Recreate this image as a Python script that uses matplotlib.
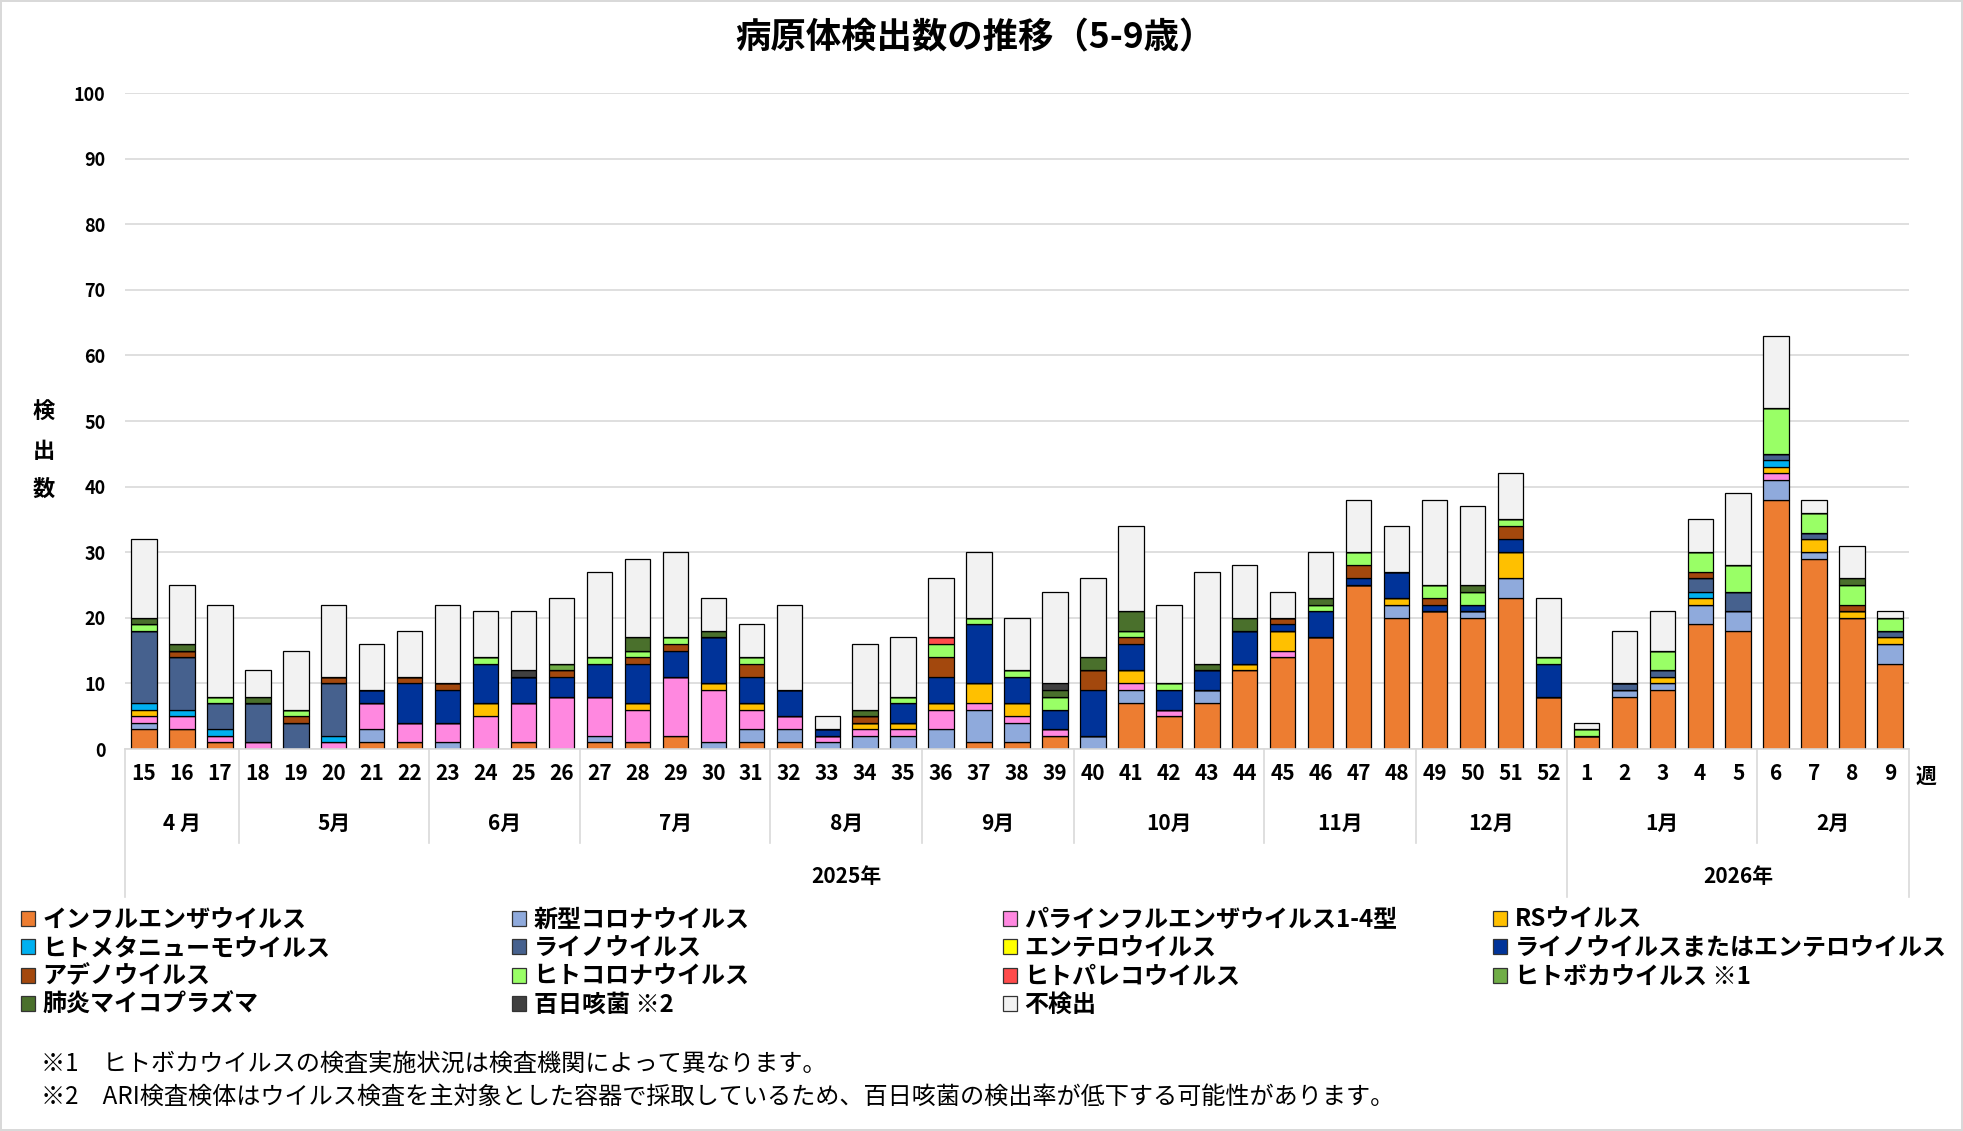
# Pathogen detections by week (5-9 years) - stacked bar figure

# ------------------------------------------------------
# IMPORTS
# ------------------------------------------------------

import numpy as np
import matplotlib
matplotlib.use('Agg')
import matplotlib.pyplot as plt
from matplotlib.patches import Patch

# Fonts
plt.rcParams['font.family'] = ['Noto Sans CJK JP', 'DejaVu Sans']

# ------------------------------------------------------
# INPUTS
# ------------------------------------------------------

# Weeks (2025: 15-52, 2026: 1-9)
weeks = [15, 16, 17, 18, 19, 20, 21, 22, 23, 24, 25, 26, 27, 28, 29, 30, 31, 32, 33, 34,
         35, 36, 37, 38, 39, 40, 41, 42, 43, 44, 45, 46, 47, 48, 49, 50, 51, 52,
         1, 2, 3, 4, 5, 6, 7, 8, 9]

# Months and number of weeks in each
months = ['4 月', '5月', '6月', '7月', '8月', '9月', '10月', '11月', '12月', '1月', '2月']
monthWeeks = [3, 5, 4, 5, 4, 4, 5, 4, 4, 5, 4]

# Years and number of weeks in each
years = ['2025年', '2026年']
yearWeeks = [38, 9]

# Series values (grouped by month)
flu     = [3,3,1, 0,0,0,1,1, 0,0,1,0, 1,1,2,0,1, 1,0,0,0, 0,1,1,2, 0,7,5,7,12, 14,17,25,20, 21,20,23,8, 2,8,9,19,18, 38,29,20,13]
cov     = [1,0,0, 0,0,0,2,0, 1,0,0,0, 1,0,0,1,2, 2,1,2,2, 3,5,3,0, 2,2,0,2,0, 0,0,0,2, 0,1,3,0, 0,1,1,3,3, 3,1,0,3]
para    = [1,2,1, 1,0,1,4,3, 3,5,6,8, 6,5,9,8,3, 2,1,1,1, 3,1,1,1, 0,1,1,0,0, 1,0,0,0, 0,0,0,0, 0,0,0,0,0, 1,0,0,0]
rs      = [1,0,0, 0,0,0,0,0, 0,2,0,0, 0,1,0,1,1, 0,0,1,1, 1,3,2,0, 0,2,0,0,1, 3,0,0,1, 0,0,4,0, 0,0,1,1,0, 1,2,1,1]
hmpv    = [1,1,1, 0,0,1,0,0, 0,0,0,0, 0,0,0,0,0, 0,0,0,0, 0,0,0,0, 0,0,0,0,0, 0,0,0,0, 0,0,0,0, 0,0,0,1,0, 1,0,0,0]
rhino   = [11,8,4, 6,4,8,0,0, 0,0,0,0, 0,0,0,0,0, 0,0,0,0, 0,0,0,0, 0,0,0,0,0, 0,0,0,0, 0,0,0,0, 0,1,1,2,3, 1,1,0,1]
entero  = [0,0,0, 0,0,0,0,0, 0,0,0,0, 0,0,0,0,0, 0,0,0,0, 0,0,0,0, 0,0,0,0,0, 0,0,0,0, 0,0,0,0, 0,0,0,0,0, 0,0,0,0]
rhEnt   = [0,0,0, 0,0,0,2,6, 5,6,4,3, 5,6,4,7,4, 4,1,0,3, 4,9,4,3, 7,4,3,3,5, 1,4,1,4, 1,1,2,5, 0,0,0,0,0, 0,0,0,0]
adeno   = [0,1,0, 0,1,1,0,1, 1,0,0,1, 0,1,1,0,2, 0,0,1,0, 3,0,0,0, 3,1,0,0,0, 1,0,2,0, 1,0,2,0, 0,0,0,1,0, 0,0,1,0]
hcov    = [1,0,1, 0,1,0,0,0, 0,1,0,0, 1,1,1,0,1, 0,0,0,1, 2,1,1,2, 0,1,1,0,0, 0,1,2,0, 2,2,1,1, 1,0,3,3,4, 7,3,3,2]
parecho = [0,0,0, 0,0,0,0,0, 0,0,0,0, 0,0,0,0,0, 0,0,0,0, 1,0,0,0, 0,0,0,0,0, 0,0,0,0, 0,0,0,0, 0,0,0,0,0, 0,0,0,0]
boca    = [0,0,0, 0,0,0,0,0, 0,0,0,1, 0,0,0,0,0, 0,0,0,0, 0,0,0,0, 0,0,0,0,0, 0,0,0,0, 0,0,0,0, 0,0,0,0,0, 0,0,0,0]
myco    = [1,1,0, 1,0,0,0,0, 0,0,0,0, 0,2,0,1,0, 0,0,1,0, 0,0,0,1, 2,3,0,1,2, 0,1,0,0, 0,1,0,0, 0,0,0,0,0, 0,0,1,0]
pert    = [0,0,0, 0,0,0,0,0, 0,0,1,0, 0,0,0,0,0, 0,0,0,0, 0,0,0,1, 0,0,0,0,0, 0,0,0,0, 0,0,0,0, 0,0,0,0,0, 0,0,0,0]
nd      = [12,9,14, 4,9,11,7,7, 12,7,9,10, 13,12,13,5,5, 13,2,10,9, 9,10,8,14, 12,13,12,14,8, 4,7,8,7, 13,12,7,9, 1,8,6,5,11, 11,2,5,1]

# Series names in stacking / legend order
names = ['インフルエンザウイルス', '新型コロナウイルス', 'パラインフルエンザウイルス1-4型', 'RSウイルス',
         'ヒトメタニューモウイルス', 'ライノウイルス', 'エンテロウイルス', 'ライノウイルスまたはエンテロウイルス',
         'アデノウイルス', 'ヒトコロナウイルス', 'ヒトパレコウイルス', 'ヒトボカウイルス ※1',
         '肺炎マイコプラズマ', '百日咳菌 ※2', '不検出']
series = [flu, cov, para, rs, hmpv, rhino, entero, rhEnt, adeno, hcov, parecho, boca, myco, pert, nd]
colors = ['#ED7D31', '#8FAADC', '#FF88E0', '#FFC000', '#00B0F0', '#46618E', '#FFFF00', '#003399',
          '#A3480D', '#99FF66', '#FF4B4B', '#70AD47', '#4A702C', '#404040', '#F2F2F2']

footnotes = ['※1　ヒトボカウイルスの検査実施状況は検査機関によって異なります。',
             '※2　ARI検査検体はウイルス検査を主対象とした容器で採取しているため、百日咳菌の検出率が低下する可能性があります。']

# ------------------------------------------------------
# OUTPUTS
# ------------------------------------------------------

fig = plt.figure(figsize=(19.63, 11.31), dpi=100)
fig.patch.set_edgecolor('#D9D9D9')
fig.patch.set_linewidth(1.5)
ax = fig.add_axes([0.06368, 0.33775, 0.90882, 0.58002])

x = np.arange(len(weeks))
bottom = np.zeros(len(weeks))
handles = []
for vals, name, c in zip(series, names, colors):
    vals = np.array(vals, dtype=float)
    ax.bar(x, vals, 0.67, bottom=bottom, color=c, edgecolor='black', linewidth=0.9)
    bottom += vals
    handles.append(Patch(facecolor=c, edgecolor='#333333', linewidth=0.9, label=name))

# Axis limits and grid
ax.set_xlim(-0.5, len(weeks) - 0.5)
ax.set_ylim(0, 100)
ax.set_yticks(range(0, 101, 10))
ax.yaxis.grid(True, color='#D9D9D9', linewidth=1.2)
ax.set_axisbelow(True)
for s in ['left', 'top', 'right']:
    ax.spines[s].set_visible(False)
ax.spines['bottom'].set_color('#D9D9D9')
ax.spines['bottom'].set_linewidth(1.2)
ax.tick_params(axis='y', length=0, pad=14, labelsize=13)
ax.tick_params(axis='x', length=0, pad=10, labelsize=15)
ax.set_xticks(x)
ax.set_xticklabels([str(w) for w in weeks])
for lab in ax.get_xticklabels() + ax.get_yticklabels():
    lab.set_fontweight('bold')

# Month and year category labels with separator lines
trans = ax.get_xaxis_transform()
edges = np.cumsum([0] + monthWeeks) - 0.5
yearEdges = list(np.cumsum([0] + yearWeeks) - 0.5)
for i, m in enumerate(months):
    ax.text((edges[i] + edges[i + 1]) / 2, -0.114, m, transform=trans, ha='center', va='center',
            fontsize=15, fontweight='bold')
for e in edges:
    low = -0.226 if e in yearEdges else -0.143
    ax.plot([e, e], [0, low], transform=trans, color='#D9D9D9', linewidth=1.2, clip_on=False)
for i, yr in enumerate(years):
    ax.text((yearEdges[i] + yearEdges[i + 1]) / 2, -0.194, yr, transform=trans, ha='center', va='center',
            fontsize=15, fontweight='bold')

fig.text(1926 / 1963, 1 - 776 / 1131, '週', ha='center', va='center', fontsize=15, fontweight='bold')

# Y label and title
fig.text(44 / 1963, 1 - 451 / 1131, '検\n出\n数', ha='center', va='center', fontsize=16,
         fontweight='bold', linespacing=1.85)
fig.text(975 / 1963, 1 - 38 / 1131, '病原体検出数の推移（5-9歳）', ha='center', va='center',
         fontsize=25.5, fontweight='bold')

# Legend, one column at a time
colX = [21, 512, 1003, 1493]
for j in range(4):
    fig.legend(handles=handles[j::4], loc='upper left', bbox_to_anchor=(colX[j] / 1963, 1 - 908 / 1131),
               frameon=False, borderaxespad=0, borderpad=0, handlelength=0.6, handleheight=0.6,
               handletextpad=0.3, labelspacing=0.18, prop={'size': 17.3, 'weight': 'bold'})

# Footnotes
fig.text(41 / 1963, 1 - 1064 / 1131, footnotes[0], ha='left', va='center', fontsize=17.4)
fig.text(41 / 1963, 1 - 1097 / 1131, footnotes[1], ha='left', va='center', fontsize=17.4)

fig.savefig('out.png', dpi=100)
